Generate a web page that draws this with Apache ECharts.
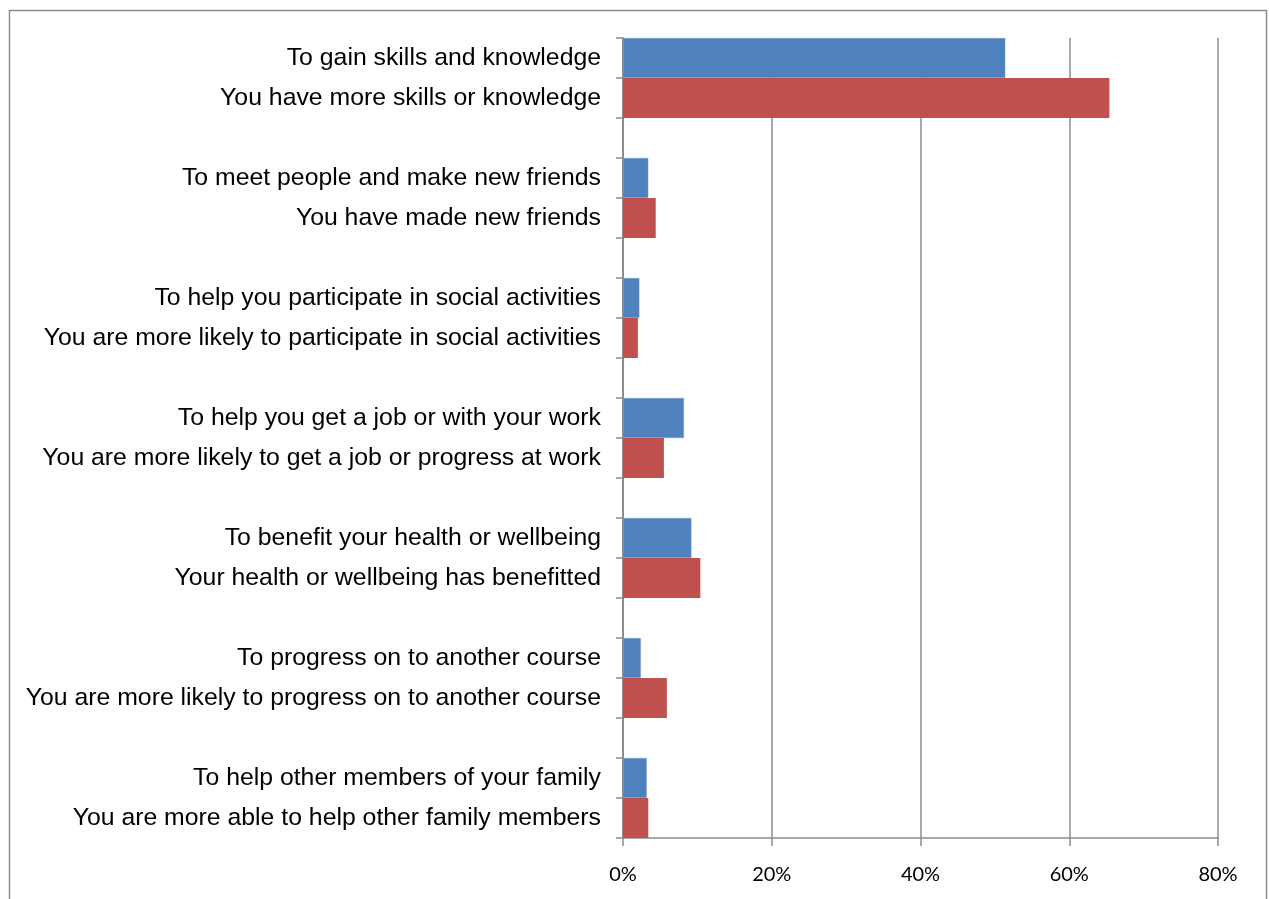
<!DOCTYPE html>
<html>
<head>
<meta charset="utf-8">
<script src="https://cdn.jsdelivr.net/npm/echarts@6/dist/echarts.min.js"></script>
<style>
html,body{margin:0;padding:0;background:#fff;}
#chart{width:1269px;height:899px;}
</style>
</head>
<body>
<div id="chart"></div>
<script>
const motivations = [
  'To gain skills and knowledge',
  'To meet people and make new friends',
  'To help you participate in social activities',
  'To help you get a job or with your work',
  'To benefit your health or wellbeing',
  'To progress on to another course',
  'To help other members of your family'
];
const outcomes = [
  'You have more skills or knowledge',
  'You have made new friends',
  'You are more likely to participate in social activities',
  'You are more likely to get a job or progress at work',
  'Your health or wellbeing has benefitted',
  'You are more likely to progress on to another course',
  'You are more able to help other family members'
];
const motivationValues = [51.4, 3.4, 2.2, 8.2, 9.2, 2.4, 3.2];
const outcomeValues = [65.4, 4.4, 2.0, 5.5, 10.4, 5.9, 3.4];
const xTicks = [0, 20, 40, 60, 80];

// Build category slots: motivation, outcome, blank gap
const categories = [];
const blueData = [];
const redData = [];
motivations.forEach((m, i) => {
  categories.push(m); blueData.push(motivationValues[i]); redData.push(null);
  categories.push(outcomes[i]); blueData.push(null); redData.push(outcomeValues[i]);
  if (i < motivations.length - 1) {
    categories.push(' '.repeat(i + 1)); blueData.push(null); redData.push(null);
  }
});

const chart = echarts.init(document.getElementById('chart'), null, {renderer: 'canvas'});
const gray = '#8c8c8c';
chart.setOption({
  animation: false,
  backgroundColor: '#fff',
  graphic: [{
    type: 'rect',
    shape: {x: 9.5, y: 10.5, width: 1257, height: 900},
    style: {fill: 'none', stroke: gray, lineWidth: 1.5},
    silent: true
  }],
  grid: {left: 623, right: 51, top: 38, bottom: 61, containLabel: false},
  xAxis: {
    type: 'value',
    min: xTicks[0],
    max: xTicks[xTicks.length - 1],
    interval: 20,
    axisLine: {show: true, lineStyle: {color: gray, width: 1.5}},
    axisTick: {show: true, length: 8, lineStyle: {color: gray, width: 1.5}},
    splitLine: {show: true, lineStyle: {color: gray, width: 1.5}},
    axisLabel: {
      formatter: '{value}%',
      margin: 27,
      color: '#000',
      fontSize: 20,
      fontFamily: 'Lato, "Open Sans", sans-serif'
    }
  },
  yAxis: {
    type: 'category',
    inverse: true,
    data: categories,
    axisLine: {show: true, lineStyle: {color: gray, width: 2}},
    axisTick: {show: true, length: 7, lineStyle: {color: gray, width: 1.5}},
    axisLabel: {
      interval: 0,
      margin: 22,
      color: '#000',
      fontSize: 24.8,
      fontFamily: '"Liberation Sans", Arial, sans-serif'
    }
  },
  series: [
    {
      name: 'Motivation',
      type: 'bar',
      data: blueData,
      barWidth: '100%',
      barGap: '-100%',
      itemStyle: {color: '#4F81BD', borderColor: '#7FA3CF', borderWidth: 0.5}
    },
    {
      name: 'Outcome',
      type: 'bar',
      data: redData,
      barWidth: '100%',
      barGap: '-100%',
      itemStyle: {color: '#C0504D'}
    }
  ]
});
</script>
</body>
</html>
